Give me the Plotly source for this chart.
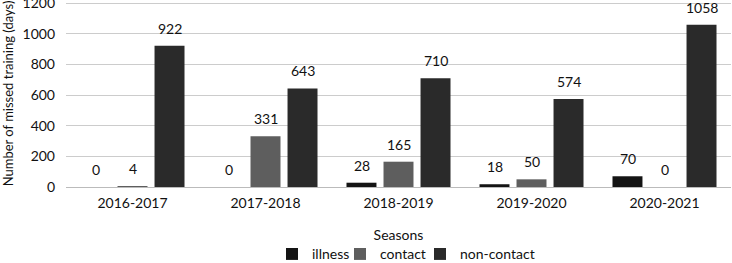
import plotly.graph_objects as go

seasons = ["2016-2017", "2017-2018", "2018-2019", "2019-2020", "2020-2021"]
illness = [0, 0, 28, 18, 70]
contact = [4, 331, 165, 50, 0]
non_contact = [922, 643, 710, 574, 1058]

series = [
    ("illness", illness, "#141414", "legend"),
    ("contact", contact, "#5e5e5e", "legend2"),
    ("non-contact", non_contact, "#2a2a2a", "legend3"),
]

FONT = "Lato, 'Open Sans', sans-serif"
L, R, T, B, W, H = 66, 1, 0, 76, 732, 263
PW = W - L - R

fig = go.Figure()
offsets = [-37, 0, 37]
for (name, vals, col, leg), dx in zip(series, offsets):
    fig.add_trace(go.Bar(
        x=seasons, y=vals, name=name, legend=leg,
        marker=dict(color=col, line=dict(width=0)),
    ))
    for s, v in zip(seasons, vals):
        fig.add_annotation(x=s, y=v, xref="x", yref="y", text=str(v), showarrow=False,
                           xshift=dx, yshift=7, yanchor="bottom",
                           font=dict(family=FONT, size=14, color="#111111"))

def legpos(px):
    return (px - L) / PW

legfont = dict(family=FONT, size=14, color="#111111")
legcommon = dict(xanchor="left", y=-0.36, yanchor="middle", font=legfont, itemwidth=30,
                 bgcolor="rgba(0,0,0,0)")
fig.update_layout(
    width=W, height=H,
    margin=dict(l=L, r=R, t=T, b=B, autoexpand=False),
    paper_bgcolor="white", plot_bgcolor="white",
    barmode="group", bargap=0.165, bargroupgap=0.19,
    font=dict(family=FONT, size=14, color="#111111"),
    showlegend=True,
    legend=dict(x=legpos(312 - 40), **legcommon),
    legend2=dict(x=legpos(380 - 40), **legcommon),
    legend3=dict(x=legpos(460 - 40), **legcommon),
    xaxis=dict(title=dict(text="Seasons", font=dict(family=FONT, size=14), standoff=20),
               tickfont=dict(family=FONT, size=14), showgrid=False, automargin=False,
               showline=False, ticks="", ticklabelstandoff=6),
    yaxis=dict(title=dict(text="Number of missed training (days)", font=dict(family=FONT, size=13), standoff=8),
               range=[0, 1200 * 187 / 184], tickvals=[0, 200, 400, 600, 800, 1000, 1200],
               tickfont=dict(family=FONT, size=14), automargin=False, ticklabeloverflow="allow",
               showgrid=True, gridcolor="#cccccc", gridwidth=1,
               zeroline=True, zerolinecolor="#bbbbbb", zerolinewidth=1,
               ticks="", ticklabelstandoff=10),
)

fig.write_html("out.html", config={"displayModeBar": False},
               post_script="document.body.style.margin='0';document.body.style.overflow='hidden';")
